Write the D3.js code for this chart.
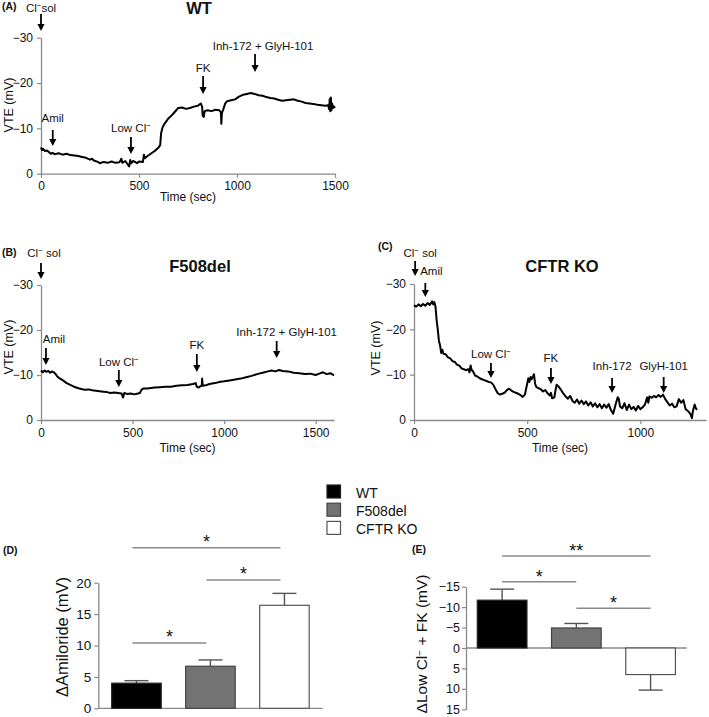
<!DOCTYPE html>
<html><head><meta charset="utf-8">
<script src="https://cdn.jsdelivr.net/npm/d3@7"></script>
<style>body{margin:0;background:#fff} text{font-family:"Liberation Sans",Arial,sans-serif;fill:#111}</style>
</head><body><svg id="c" width="709" height="717"></svg>
<script>
// ---------------- DATA ----------------
// Traces: [time (sec), VTE (mV)]
const wtTrace = [[0,-5.8],[5,-5.2],[10,-5.5],[20,-5.0],[30,-5.1],[40,-4.8],[50,-4.4],[60,-4.6],[70,-4.3],[90,-4.5],[110,-4.2],[130,-4.4],[150,-4.1],[170,-4.0],[190,-3.9],[210,-3.7],[230,-3.5],[250,-3.1],[260,-3.3],[270,-2.9],[290,-2.6],[300,-2.3],[320,-2.6],[340,-2.4],[360,-2.7],[380,-2.4],[400,-2.5],[410,-3.3],[415,-2.4],[430,-2.8],[440,-2.2],[450,-1.6],[455,-3.0],[460,-2.3],[470,-2.8],[480,-2.6],[490,-2.3],[500,-2.7],[520,-2.6],[525,-4.2],[530,-3.4],[540,-3.8],[560,-4.4],[580,-5.0],[600,-5.8],[608,-6.3],[613,-9.0],[620,-10.2],[630,-11.0],[650,-12.2],[670,-13.0],[690,-14.0],[700,-14.5],[720,-14.6],[740,-14.3],[760,-14.5],[780,-14.8],[800,-15.0],[815,-15.5],[822,-14.8],[825,-12.8],[830,-12.5],[835,-13.8],[850,-14.0],[870,-13.8],[890,-14.1],[910,-14.0],[918,-13.5],[920,-11.0],[923,-13.4],[930,-14.2],[940,-15.5],[950,-16.0],[970,-16.2],[990,-16.4],[1010,-17.0],[1030,-17.4],[1050,-17.6],[1070,-17.8],[1090,-17.6],[1110,-17.3],[1130,-17.2],[1150,-16.9],[1170,-16.7],[1190,-16.6],[1210,-16.3],[1230,-16.1],[1250,-16.2],[1270,-16.3],[1290,-16.4],[1310,-16.1],[1330,-15.9],[1350,-15.6],[1370,-15.5],[1390,-15.4],[1410,-15.2],[1430,-15.1],[1450,-15.0],[1465,-15.1],[1470,-14.2],[1473,-16.5],[1476,-13.8],[1479,-16.8],[1482,-14.0],[1485,-15.5],[1490,-14.5],[1495,-14.8],[1500,-14.5]];

const f508Trace = [[0,-11.0],[10,-10.6],[20,-11.0],[30,-10.7],[40,-10.9],[50,-10.5],[60,-10.8],[70,-10.6],[80,-10.2],[90,-9.6],[100,-9.3],[120,-8.8],[140,-8.2],[160,-7.8],[180,-7.4],[200,-7.1],[220,-6.9],[240,-6.7],[260,-6.8],[280,-6.6],[300,-6.5],[320,-6.4],[340,-6.3],[360,-6.2],[380,-6.0],[400,-6.1],[420,-6.0],[440,-5.9],[448,-5.0],[455,-6.0],[470,-5.8],[490,-5.9],[510,-5.7],[530,-5.9],[540,-6.0],[550,-6.8],[560,-7.0],[580,-7.0],[600,-7.1],[620,-7.2],[650,-7.3],[680,-7.4],[710,-7.4],[740,-7.6],[770,-7.7],[800,-7.8],[830,-8.0],[845,-8.2],[850,-7.4],[860,-7.2],[870,-7.5],[878,-7.6],[880,-9.2],[883,-7.6],[900,-7.7],[920,-8.0],[950,-8.2],[980,-8.5],[1000,-8.6],[1030,-8.8],[1060,-9.0],[1090,-9.2],[1120,-9.5],[1150,-9.8],[1180,-10.2],[1210,-10.5],[1240,-10.8],[1260,-11.0],[1280,-10.8],[1300,-11.1],[1320,-10.9],[1350,-10.8],[1380,-10.5],[1410,-10.4],[1440,-10.2],[1470,-10.3],[1500,-10.0],[1520,-10.3],[1540,-10.6],[1560,-10.2],[1580,-10.4],[1600,-9.9]];

const koTrace = [[0,-25.3],[10,-25.0],[20,-25.5],[30,-25.1],[40,-25.6],[50,-25.2],[60,-25.8],[70,-25.4],[80,-26.2],[85,-25.5],[90,-26.0],[95,-25.0],[100,-22.0],[105,-20.0],[110,-17.5],[115,-16.5],[120,-14.8],[125,-15.5],[130,-14.6],[140,-14.5],[150,-13.8],[160,-13.6],[170,-13.0],[180,-12.8],[190,-12.2],[200,-12.0],[210,-11.4],[220,-11.2],[230,-11.0],[240,-11.2],[245,-10.5],[250,-12.0],[255,-11.0],[260,-10.8],[270,-9.8],[280,-9.6],[290,-9.2],[300,-9.0],[310,-8.8],[320,-8.6],[330,-8.4],[340,-8.3],[350,-7.8],[360,-6.8],[370,-5.9],[380,-5.6],[390,-5.8],[400,-6.0],[410,-6.6],[420,-6.9],[430,-6.5],[440,-6.2],[450,-6.0],[460,-5.8],[470,-5.5],[480,-5.1],[490,-5.6],[500,-8.0],[505,-9.2],[510,-8.4],[515,-9.5],[520,-9.0],[530,-10.1],[535,-8.0],[540,-7.3],[550,-7.0],[560,-6.8],[570,-6.3],[580,-6.6],[590,-5.9],[600,-5.4],[605,-6.0],[610,-4.8],[620,-5.0],[625,-6.5],[630,-7.8],[640,-7.3],[650,-6.6],[660,-5.8],[670,-5.2],[680,-4.7],[690,-5.3],[700,-4.2],[710,-3.8],[720,-4.5],[730,-3.6],[740,-4.3],[750,-3.5],[760,-4.1],[770,-3.2],[780,-3.9],[790,-3.0],[800,-3.7],[810,-2.8],[820,-3.5],[830,-2.6],[840,-3.4],[850,-2.7],[860,-3.5],[870,-2.2],[880,-1.4],[890,-3.3],[900,-5.0],[905,-4.6],[910,-3.0],[920,-2.6],[930,-3.7],[940,-2.2],[950,-3.4],[960,-2.4],[970,-2.9],[980,-2.1],[990,-3.1],[1000,-2.4],[1010,-2.8],[1020,-3.4],[1030,-5.0],[1035,-3.8],[1040,-5.2],[1050,-4.9],[1060,-5.3],[1070,-5.0],[1080,-5.5],[1090,-5.1],[1100,-5.6],[1110,-4.6],[1120,-3.9],[1130,-3.2],[1140,-3.6],[1150,-2.8],[1160,-3.0],[1170,-4.6],[1180,-3.8],[1190,-4.4],[1200,-2.4],[1210,-2.0],[1220,-1.4],[1228,-0.4],[1232,-2.0],[1240,-3.4],[1245,-2.6],[1250,-2.2]];

// Event markers: [label, time (sec)]
const wtEvents = [["Cl⁻sol",0],["Amil",60],["Low Cl⁻",459],["FK",827],["Inh-172 + GlyH-101",1092]];
const f508Events = [["Cl⁻ sol",0],["Amil",27],["Low Cl⁻",425],["FK",851],["Inh-172 + GlyH-101",1287]];
const koEvents = [["Cl⁻ sol",5],["Amil",50],["Low Cl⁻",340],["FK",605],["Inh-172",875],["GlyH-101",1103]];

const vteTicks = [0,-10,-20,-30];
const timeTicksA = [0,500,1000,1500];
const timeTicksB = [0,500,1000,1500];
const timeTicksC = [0,500,1000];

// Bar charts
const groups = ["WT","F508del","CFTR KO"];
const amilMean = [4.0, 6.7, 16.4];
const amilSem  = [0.4, 1.0, 1.9];
const lowClMean = [-11.7, -4.9, 6.5];
const lowClSem  = [2.7, 1.1, 3.8];
const amilTicks = [0,5,10,15,20];
const lowClTicks = [-15,-10,-5,0,5,10,15];
// significance brackets: [groupA, groupB, label]
const amilSig = [["WT","CFTR KO","*"],["F508del","CFTR KO","*"],["WT","F508del","*"]];
const lowClSig = [["WT","CFTR KO","**"],["WT","F508del","*"],["F508del","CFTR KO","*"]];

// ---------------- DRAWING ----------------
const svg = d3.select("#c");
const AX = "#8a8a8a";
const FONT = '"Liberation Sans",Arial,sans-serif';
const fmt = d3.format("d");

function label(sel, str, supSize){
  const parts = str.split("⁻");
  parts.forEach((p,i)=>{
    if(i>0){
      sel.append("tspan").attr("dy",-4).attr("font-size",supSize).text("−");
      sel.append("tspan").attr("dy",4).text(p);
    } else sel.append("tspan").text(p);
  });
}
function arrow(g, x, y1, y2){
  g.append("line").attr("x1",x).attr("x2",x).attr("y1",y1).attr("y2",y2-5)
    .attr("stroke","#000").attr("stroke-width",1.8);
  g.append("path").attr("d",`M${x-3.6},${y2-7}L${x+3.6},${y2-7}L${x},${y2}Z`).attr("fill","#000");
}

function tracePanel(cfg){
  const g = svg.append("g");
  const x = d3.scaleLinear().domain(cfg.xDom).range(cfg.xR);
  const y = d3.scaleLinear().domain([0,-30]).range(cfg.yR);
  const ya = g.append("g").attr("transform",`translate(${cfg.xR[0]},0)`)
    .call(d3.axisLeft(y).tickValues(vteTicks).tickFormat(fmt).tickSize(4).tickPadding(4).tickSizeOuter(0));
  const xa = g.append("g").attr("transform",`translate(0,${cfg.yR[0]})`)
    .call(d3.axisBottom(x).tickValues(cfg.xTicks).tickFormat(fmt).tickSize(4).tickPadding(4).tickSizeOuter(0));
  [ya,xa].forEach(a=>{
    a.select(".domain").attr("stroke",AX).attr("stroke-width",1.3);
    a.selectAll(".tick line").attr("stroke",AX).attr("stroke-width",1.2);
    a.selectAll("text").attr("font-size",12).attr("font-family",FONT).attr("fill","#222");
  });
  g.append("path").datum(cfg.data)
    .attr("d", d3.line().x(d=>x(d[0])).y(d=>y(d[1])))
    .attr("fill","none").attr("stroke","#000").attr("stroke-width",2).attr("stroke-linejoin","round");
  cfg.events.forEach((e,i)=>{
    const L = cfg.evLayout[i]; // [textBaseline, arrowTop, arrowBottom, textDx]
    const ex = x(e[1]);
    arrow(g, ex, L[1], L[2]);
    const t = g.append("text").attr("x", ex + (L[3]||0)).attr("y", L[0])
      .attr("text-anchor","middle").attr("font-size",11.5);
    label(t, e[0], 8);
  });
  g.append("text").attr("x",cfg.title[1]).attr("y",cfg.title[2]).attr("text-anchor","middle")
    .attr("font-size",16.5).attr("font-weight","bold").text(cfg.title[0]);
  g.append("text").attr("transform",`translate(${cfg.yLab[0]},${cfg.yLab[1]}) rotate(-90)`)
    .attr("text-anchor","middle").attr("font-size",12.5).text("VTE (mV)");
  g.append("text").attr("x",(cfg.xR[0]+cfg.xR[1])/2).attr("y",cfg.xLabY).attr("text-anchor","middle")
    .attr("font-size",12).text("Time (sec)");
  g.append("text").attr("x",cfg.letter[1]).attr("y",cfg.letter[2]).attr("font-size",10.5)
    .attr("font-weight","bold").text(cfg.letter[0]);
}

tracePanel({data:wtTrace, events:wtEvents, xDom:[0,1500], xR:[41,335], yR:[173.7,37.7], xTicks:timeTicksA,
  evLayout:[[12,14,31],[122,130,146],[132,137,154],[72,76,94],[50,54,72,8]],
  title:["WT",199,14], yLab:[13,105], xLabY:201, letter:["(A)",2,10]});
tracePanel({data:f508Trace, events:f508Events, xDom:[0,1600], xR:[41,334], yR:[420,285], xTicks:timeTicksB,
  evLayout:[[257,263,279,3],[343,348,365,8],[366,370,387],[349,354,372],[336,341,358,10]],
  title:["F508del",200,272], yLab:[13,347], xLabY:452, letter:["(B)",2,256]});
tracePanel({data:koTrace, events:koEvents, xDom:[0,1290], xR:[414,706], yR:[420,284], xTicks:timeTicksC,
  evLayout:[[257,261,276,5],[275,283,297,6],[358,363,378],[362,368,384],[370,378,393],[370,377,393]],
  title:["CFTR KO",562,272], yLab:[380,348], xLabY:452, letter:["(C)",378,250]});

// Legend
const fills = {"WT":"#000","F508del":"#737373","CFTR KO":"#fff"};
const strokes = {"WT":"#222","F508del":"#444","CFTR KO":"#555"};
groups.forEach((k,i)=>{
  svg.append("rect").attr("x",327).attr("y",485+i*18.2).attr("width",13.5).attr("height",13)
    .attr("fill",fills[k]).attr("stroke",strokes[k]).attr("stroke-width",1.2);
  svg.append("text").attr("x",356).attr("y",497.5+i*18.2).attr("font-size",14).text(k);
});

function barPanel(cfg){
  const g = svg.append("g");
  const x = d3.scaleBand().domain(groups).range(cfg.xR).paddingInner(0.331).paddingOuter(cfg.po);
  const y = d3.scaleLinear().domain(cfg.yDom).range(cfg.yR);
  const y0 = y(0);
  const ya = g.append("g").attr("transform",`translate(${cfg.xR[0]},0)`)
    .call(d3.axisLeft(y).tickValues(cfg.ticks).tickFormat(fmt).tickSize(4).tickPadding(cfg.tp).tickSizeOuter(0));
  ya.select(".domain").attr("stroke",AX).attr("stroke-width",1.3);
  ya.selectAll(".tick line").attr("stroke",AX).attr("stroke-width",1.2);
  ya.selectAll("text").attr("font-size",cfg.tf).attr("font-family",FONT).attr("fill","#222");
  g.append("line").attr("x1",cfg.xR[0]).attr("x2",cfg.xR[1]).attr("y1",y0).attr("y2",y0)
    .attr("stroke",AX).attr("stroke-width",1.3);
  groups.forEach((k,i)=>{
    const v = cfg.mean[i], e = cfg.sem[i];
    const cx = x(k)+x.bandwidth()/2;
    const tip = v + Math.sign(v)*e;
    g.append("line").attr("x1",cx).attr("x2",cx).attr("y1",y(v)).attr("y2",y(tip))
      .attr("stroke","#555").attr("stroke-width",1.4);
    g.append("line").attr("x1",cx-12).attr("x2",cx+12).attr("y1",y(tip)).attr("y2",y(tip))
      .attr("stroke","#555").attr("stroke-width",1.4);
    g.append("rect").attr("x",x(k)).attr("width",x.bandwidth())
      .attr("y",Math.min(y(v),y0)).attr("height",Math.abs(y(v)-y0))
      .attr("fill",fills[k]).attr("stroke",strokes[k]).attr("stroke-width",1.2);
  });
  cfg.sig.forEach((s,i)=>{
    const ly = cfg.sigY[i];
    const x1 = x(s[0])+x.bandwidth()/2 + cfg.sigDx, x2 = x(s[1])+x.bandwidth()/2 + cfg.sigDx;
    g.append("line").attr("x1",x1).attr("x2",x2).attr("y1",ly).attr("y2",ly)
      .attr("stroke","#8a8a8a").attr("stroke-width",1.4);
    g.append("text").attr("x",(x1+x2)/2).attr("y",ly+cfg.starDy).attr("text-anchor","middle")
      .attr("font-size",18).text(s[2]);
  });
  const yl = g.append("text").attr("transform",`translate(${cfg.yLab[0]},${cfg.yLab[1]}) rotate(-90)`)
    .attr("text-anchor","middle").attr("font-size",cfg.yLab[2]);
  label(yl, cfg.yLabText, 10);
  g.append("text").attr("x",cfg.letter[1]).attr("y",cfg.letter[2]).attr("font-size",10.5)
    .attr("font-weight","bold").text(cfg.letter[0]);
}

barPanel({mean:amilMean, sem:amilSem, xR:[98.3,322.6], po:0.181, yDom:[0,20], yR:[708.3,582.7],
  ticks:amilTicks, tp:3, tf:13.5, sig:amilSig, sigY:[547.7,580,643], sigDx:-4, starDy:0,
  yLab:[68,637,16.5], yLabText:"ΔAmiloride (mV)", letter:["(D)",3,554]});
barPanel({mean:lowClMean, sem:lowClSem, xR:[466,686.7], po:0.152, yDom:[-15,15], yR:[586.7,709.3],
  ticks:lowClTicks, tp:2, tf:12.5, sig:lowClSig, sigY:[556,581.7,608.3], sigDx:0, starDy:1,
  yLab:[427,644,15.5], yLabText:"ΔLow Cl⁻ + FK (mV)", letter:["(E)",412,553]});
</script>
</body></html>
